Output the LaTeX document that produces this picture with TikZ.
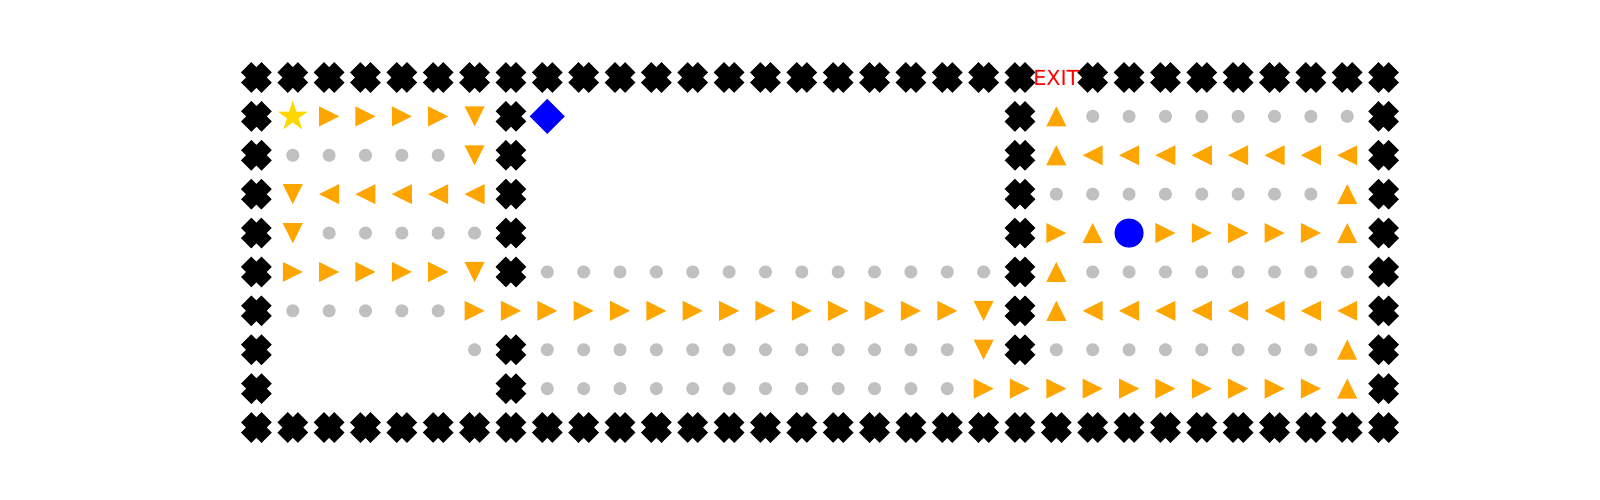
\documentclass[tikz,border=0pt]{standalone}
\usepackage{fontspec}
\setsansfont{DejaVu Sans}
\usepackage{color}
\definecolor{steporange}{HTML}{FFA500}
\definecolor{dotgray}{HTML}{C0C0C0}
\definecolor{startgold}{HTML}{FFD700}

\begin{document}
\begin{tikzpicture}[
  wall/.pic={\draw[black, line width=1.45mm] (-1.02mm,-1.02mm) -- (1.02mm,1.02mm) (-1.02mm,1.02mm) -- (1.02mm,-1.02mm);},
  seen/.pic={\fill[dotgray] (0,0) circle (0.65mm);},
  goright/.pic={\fill[steporange] (1mm,0) -- (-1mm,1mm) -- (-1mm,-1mm) -- cycle;},
  goleft/.pic={\fill[steporange] (-1mm,0) -- (1mm,1mm) -- (1mm,-1mm) -- cycle;},
  goup/.pic={\fill[steporange] (0,1mm) -- (-1mm,-1mm) -- (1mm,-1mm) -- cycle;},
  godown/.pic={\fill[steporange] (0,-1mm) -- (-1mm,1mm) -- (1mm,1mm) -- cycle;}
]
\useasboundingbox (0,0) rectangle (16,-5);
\begin{scope}[xshift=2.564cm, yshift=-0.775cm, x=0.3636cm, y=-0.3889cm]
%% walls
\foreach \c in {0,...,31} \pic at (\c,9) {wall};
\foreach \c in {0,...,21} \pic at (\c,0) {wall};
\foreach \c in {23,...,31} \pic at (\c,0) {wall};
\foreach \r in {1,...,8} {\pic at (0,\r) {wall}; \pic at (31,\r) {wall};}
\foreach \r in {1,2,3,4,5,7,8} \pic at (7,\r) {wall};
\foreach \r in {1,...,7} \pic at (21,\r) {wall};
\node[text=red, font=\sffamily\fontsize{5.9}{6}\selectfont, inner sep=0] (exit) at (22,0) {EXIT};
%% visited cells
\foreach \r/\from/\to in {1/23/30, 2/1/5, 3/22/29, 4/2/6, 5/8/20, 5/23/30, 6/1/5, 7/6/6, 7/8/19, 7/22/29, 8/8/19}
  \foreach \c in {\from,...,\to} \pic at (\c,\r) {seen};
%% path
\foreach \r/\from/\to in {1/2/5, 4/22/22, 4/25/29, 5/1/5, 6/6/19, 8/20/29}
  \foreach \c in {\from,...,\to} \pic at (\c,\r) {goright};
\foreach \r/\from/\to in {2/23/30, 3/2/6, 6/23/30}
  \foreach \c in {\from,...,\to} \pic at (\c,\r) {goleft};
\foreach \c/\r in {1/3, 1/4, 6/1, 6/2, 6/5, 20/6, 20/7} \pic at (\c,\r) {godown};
\foreach \c/\r in {22/1, 22/2, 22/5, 22/6, 23/4, 30/3, 30/4, 30/7, 30/8} \pic at (\c,\r) {goup};
%% start, key, agent
\fill[startgold] (1,1) +(90:1.58mm) -- +(126:0.6mm) -- +(162:1.58mm) -- +(198:0.6mm) -- +(234:1.58mm) -- +(270:0.6mm) -- +(306:1.58mm) -- +(342:0.6mm) -- +(18:1.58mm) -- +(54:0.6mm) -- cycle;
\fill[blue] (8,1) +(1.75mm,0) -- +(0,1.75mm) -- +(-1.75mm,0) -- +(0,-1.75mm) -- cycle;
\fill[blue] (24,4) circle (1.45mm);
\end{scope}
\end{tikzpicture}
\end{document}
